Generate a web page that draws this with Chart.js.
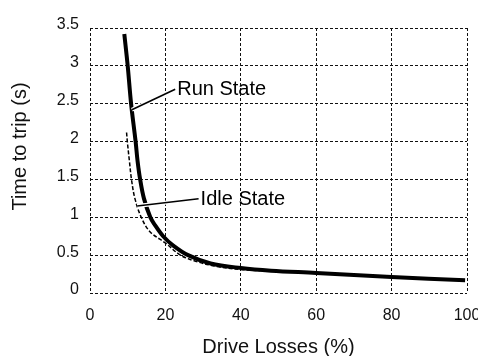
<!DOCTYPE html>
<html>
<head>
<meta charset="utf-8">
<script src="https://cdn.jsdelivr.net/npm/chart.js@4/dist/chart.umd.min.js"></script>
<style>
  html, body { margin: 0; padding: 0; background: #fff; }
  #wrap { width: 478px; height: 356px; }
</style>
</head>
<body>
<div id="wrap"><canvas id="chart"></canvas></div>
<script>
// Run State curve (drive losses %, time to trip s)
const runLoss = [9.1, 10.0, 10.9, 12.1, 12.6, 13.3, 14.3, 16.0, 17.2, 19.4, 22, 26, 32, 40, 48, 60, 80, 99.5];
const runTime = [3.42, 3.0, 2.5, 2.0, 1.75, 1.5, 1.25, 1.0, 0.9, 0.75, 0.63, 0.5, 0.39, 0.33, 0.295, 0.265, 0.21, 0.167];

// Idle State curve
const idleLoss = [9.7, 9.9, 10.5, 11.0, 11.9, 13.6, 15.9, 20, 24, 28, 33.6, 40, 45];
const idleTime = [2.12, 2.0, 1.72, 1.5, 1.25, 1.0, 0.81, 0.66, 0.5, 0.42, 0.35, 0.31, 0.295];

// axis ticks
const xTicks = [0, 20, 40, 60, 80, 100];
const yTicks = [0, 0.5, 1, 1.5, 2, 2.5, 3, 3.5];

// callout labels: leader from [x0,y0] to [x1,y1], text starts after it
const callouts = [
  { text: 'Run State',  from: [11.1, 2.42], to: [22.6, 2.69] },
  { text: 'Idle State', from: [12.5, 1.15], to: [28.8, 1.245] }
];

const yTitle = 'Time to trip (s)';
const FONT = '"Liberation Sans", Arial, Helvetica, sans-serif';

function toPoints(xs, ys) {
  return xs.map((x, i) => ({ x: x, y: ys[i] }));
}

const calloutPlugin = {
  id: 'callouts',
  afterDatasetsDraw(chart) {
    const { ctx, scales: { x, y } } = chart;
    ctx.save();
    callouts.forEach(c => {
      const x0 = x.getPixelForValue(c.from[0]), y0 = y.getPixelForValue(c.from[1]);
      const x1 = x.getPixelForValue(c.to[0]),   y1 = y.getPixelForValue(c.to[1]);
      // white halo under the leader
      ctx.strokeStyle = '#fff';
      ctx.lineWidth = 4;
      ctx.beginPath(); ctx.moveTo(x0, y0); ctx.lineTo(x1, y1); ctx.stroke();
      ctx.strokeStyle = '#000';
      ctx.lineWidth = 1.6;
      ctx.beginPath(); ctx.moveTo(x0, y0); ctx.lineTo(x1, y1); ctx.stroke();
      ctx.fillStyle = '#000';
      ctx.font = '20px ' + FONT;
      ctx.textBaseline = 'middle';
      ctx.textAlign = 'left';
      ctx.fillText(c.text, x1 + 2, y1 + 0.5);
    });
    ctx.restore();
  },
  afterDraw(chart) {
    // y axis title sits a bit above the middle of the plot in the original
    const { ctx, chartArea } = chart;
    ctx.save();
    ctx.translate(20, (chartArea.top + chartArea.bottom) / 2 - 14);
    ctx.rotate(-Math.PI / 2);
    ctx.fillStyle = '#111';
    ctx.font = '20px ' + FONT;
    ctx.textAlign = 'center';
    ctx.textBaseline = 'middle';
    ctx.fillText(yTitle, 0, 0);
    ctx.restore();
  }
};

new Chart(document.getElementById('chart'), {
  type: 'scatter',
  data: {
    datasets: [
      {
        label: 'Run State',
        data: toPoints(runLoss, runTime),
        showLine: true,
        borderColor: '#000',
        borderWidth: 4,
        pointRadius: 0,
        tension: 0.35,
        order: 1
      },
      {
        label: 'Idle State',
        data: toPoints(idleLoss, idleTime),
        showLine: true,
        borderColor: '#000',
        borderWidth: 1.5,
        borderDash: [4, 2],
        pointRadius: 0,
        tension: 0.35,
        order: 2
      }
    ]
  },
  options: {
    responsive: true,
    maintainAspectRatio: false,
    animation: false,
    layout: { padding: { top: 28, right: 11, left: 0, bottom: 0 } },
    plugins: {
      legend: { display: false },
      tooltip: { enabled: false }
    },
    scales: {
      x: {
        type: 'linear',
        min: 0,
        max: 100,
        afterBuildTicks: s => { s.ticks = xTicks.map(v => ({ value: v })); },
        afterFit: s => { s.height = 63; s.paddingRight = 0; s.paddingLeft = 0; },
        grid: { color: '#111', lineWidth: 1, drawTicks: false },
        border: { display: false, dash: [3, 2] },
        ticks: { color: '#111', padding: 13, font: { family: FONT, size: 16 }, callback: v => String(v) },
        title: {
          display: true,
          text: 'Drive Losses (%)',
          color: '#111',
          font: { family: FONT, size: 20 },
          padding: { top: 4, bottom: -3 }
        }
      },
      y: {
        type: 'linear',
        min: 0,
        max: 3.5,
        afterBuildTicks: s => { s.ticks = yTicks.map(v => ({ value: v })); },
        afterFit: s => { s.width = 90; s.paddingTop = 0; s.paddingBottom = 0; },
        grid: { color: '#111', lineWidth: 1, drawTicks: false },
        border: { display: false, dash: [3, 2] },
        ticks: { color: '#111', padding: 11, labelOffset: -3, font: { family: FONT, size: 16 }, callback: v => String(v) },
        title: { display: false }
      }
    }
  },
  plugins: [calloutPlugin]
});
</script>
</body>
</html>
